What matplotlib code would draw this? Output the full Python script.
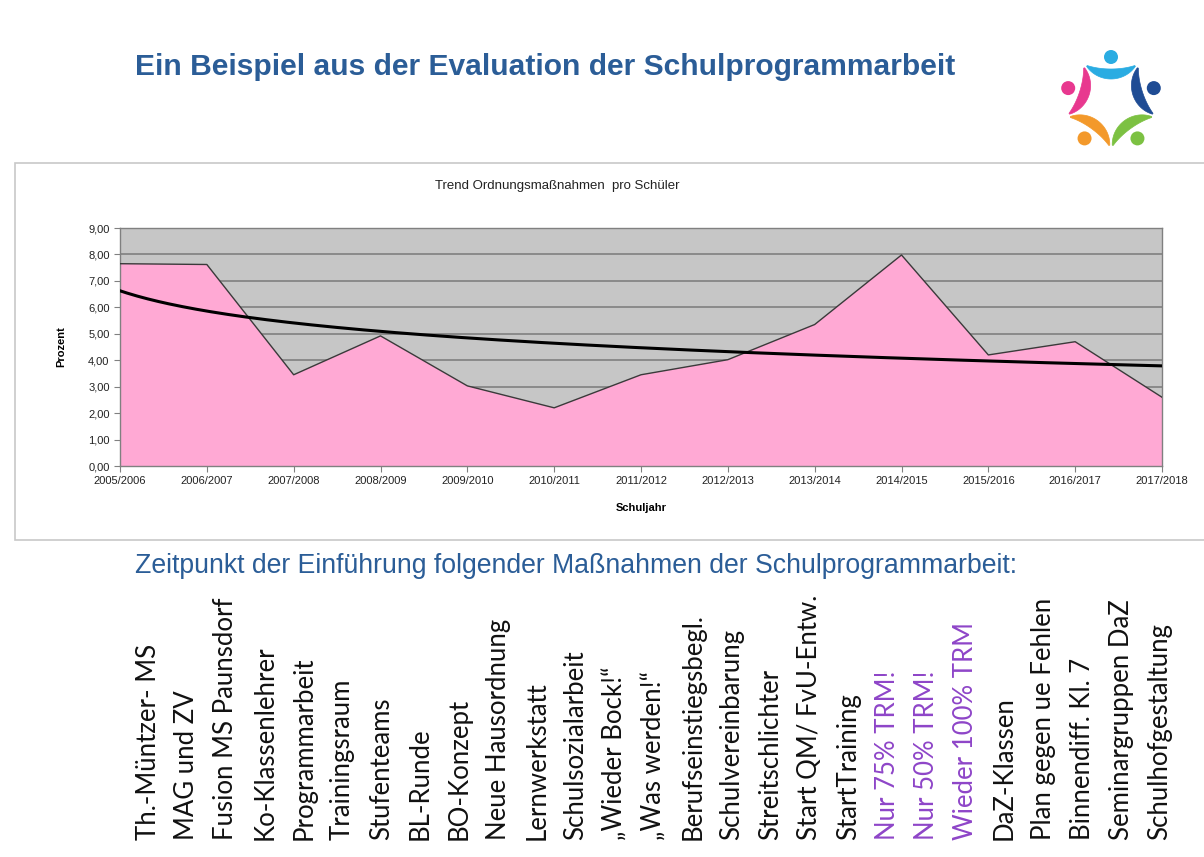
import numpy as np
import matplotlib
matplotlib.use("Agg")
import matplotlib.pyplot as plt
from matplotlib.patches import Rectangle, Circle, Polygon
from matplotlib.ticker import FuncFormatter

# ---------------- data ----------------
years = ["2005/2006", "2006/2007", "2007/2008", "2008/2009", "2009/2010",
         "2010/2011", "2011/2012", "2012/2013", "2013/2014", "2014/2015",
         "2015/2016", "2016/2017", "2017/2018"]
values = [7.65, 7.62, 3.45, 4.92, 3.03, 2.20, 3.45, 4.02, 5.35, 7.98, 4.20, 4.70, 2.60]
y_ticks = [0, 1, 2, 3, 4, 5, 6, 7, 8, 9]

measures = ["Th.-Müntzer- MS", "MAG und ZV", "Fusion MS Paunsdorf", "Ko-Klassenlehrer",
            "Programmarbeit", "Trainingsraum", "Stufenteams", "BL-Runde", "BO-Konzept",
            "Neue Hausordnung", "Lernwerkstatt", "Schulsozialarbeit", "\u201eWieder Bock!\u201c",
            "\u201eWas werden!\u201c", "Berufseinstiegsbegl.", "Schulvereinbarung",
            "Streitschlichter", "Start QM/ FvU-Entw.", "StartTraining", "Nur 75% TRM!",
            "Nur 50% TRM!", "Wieder 100% TRM", "DaZ-Klassen", "Plan gegen ue Fehlen",
            "Binnendiff. Kl. 7", "Seminargruppen DaZ", "Schulhofgestaltung"]
highlighted = ["Nur 75% TRM!", "Nur 50% TRM!", "Wieder 100% TRM"]

title = "Ein Beispiel aus der Evaluation der Schulprogrammarbeit"
chart_title = "Trend Ordnungsmaßnahmen  pro Schüler"
subtitle = "Zeitpunkt der Einführung folgender Maßnahmen der Schulprogrammarbeit:"

# ---------------- figure ----------------
W, H = 1204, 857
fig = plt.figure(figsize=(W / 100, H / 100), dpi=100)
fig.patch.set_facecolor("white")

# background / decoration layer in pixel coordinates
bg = fig.add_axes([0, 0, 1, 1], zorder=0)
bg.set_xlim(0, W)
bg.set_ylim(H, 0)
bg.axis("off")

# chart box
bg.add_patch(Rectangle((15, 163), 1200, 377, facecolor="white",
                       edgecolor="#C8C8C8", linewidth=1.2))

blue = "#2B5D97"
bg.text(135, 67, title, fontsize=21.6, fontweight="bold", color=blue,
        family="Liberation Sans", va="center", ha="left")
bg.text(135, 566, subtitle, fontsize=19.2, color=blue,
        family="Liberation Sans", va="center", ha="left")
bg.text(557, 186, chart_title, fontsize=9.5, color="#222222",
        family="Liberation Sans", va="center", ha="center")

# logo: five stylised figures (head + tapered crescent body) around a centre
logo_colors = ["#2AACE2", "#1F4C94", "#7CC142", "#F3992B", "#E8388F"]
cx, cy = 1111, 102
t = np.linspace(-1, 1, 60)
for k, col in enumerate(logo_colors):
    ang = np.deg2rad(-90 + 72 * k)
    d = np.array([np.cos(ang), np.sin(ang)])
    bg.add_patch(Circle((cx + 45 * d[0], cy + 45 * d[1]), 7, color=col, lw=0))
    acx, acy = cx + 68 * d[0], cy + 68 * d[1]
    R, span = 40, np.deg2rad(37)
    th = ang + np.pi + t * span
    wdt = 9 * (1 - t ** 2) + 1.0
    outer = np.column_stack([acx + (R + wdt / 2) * np.cos(th), acy + (R + wdt / 2) * np.sin(th)])
    inner = np.column_stack([acx + (R - wdt / 2) * np.cos(th), acy + (R - wdt / 2) * np.sin(th)])
    bg.add_patch(Polygon(np.vstack([outer, inner[::-1]]), closed=True,
                         facecolor=col, edgecolor=col, lw=0.5))

# rotated list of measures
xs = np.linspace(148, 1160, len(measures))
for x, lab in zip(xs, measures):
    col = "#8E45C8" if lab in highlighted else "#111111"
    bg.text(x, 840, lab, rotation=90, ha="center", va="bottom", fontsize=18.5,
            family="Lato", color=col)

# ---------------- chart ----------------
ax = fig.add_axes([120 / W, 1 - 466 / H, (1162 - 120) / W, (466 - 228) / H], zorder=2)
ax.set_facecolor("#C6C6C6")
x = np.arange(len(years))
ax.fill_between(x, values, 0, facecolor="#FFA9D4", edgecolor="none", zorder=2)
ax.plot(x, values, color="#3A3A3A", lw=1.0, zorder=3)

# logarithmic trend line (least squares on ln(x))
xi = x + 1
a, b = np.polyfit(np.log(xi), values, 1)
xt = np.linspace(1, len(years), 300)
ax.plot(xt - 1, a * np.log(xt) + b, color="black", lw=2.2, zorder=4)

ax.set_xlim(0, len(years) - 1)
ax.set_ylim(0, 9)
ax.set_yticks(y_ticks)
ax.yaxis.set_major_formatter(FuncFormatter(lambda v, p: f"{v:.2f}".replace(".", ",")))
ax.set_xticks(x)
ax.set_xticklabels(years)
ax.grid(axis="y", color="#7A7A7A", lw=1.1, zorder=1)
ax.set_axisbelow(True)
for s in ax.spines.values():
    s.set_color("#808080")
    s.set_linewidth(1.0)
ax.tick_params(axis="both", labelsize=8, colors="#222222", length=4, color="#808080")
for tl in ax.get_xticklabels() + ax.get_yticklabels():
    tl.set_family("Liberation Sans")
ax.set_ylabel("Prozent", fontsize=8, fontweight="bold", family="Liberation Sans", labelpad=16)
ax.set_xlabel("Schuljahr", fontsize=8, fontweight="bold", family="Liberation Sans", labelpad=12)

fig.savefig("out.png", dpi=100)
